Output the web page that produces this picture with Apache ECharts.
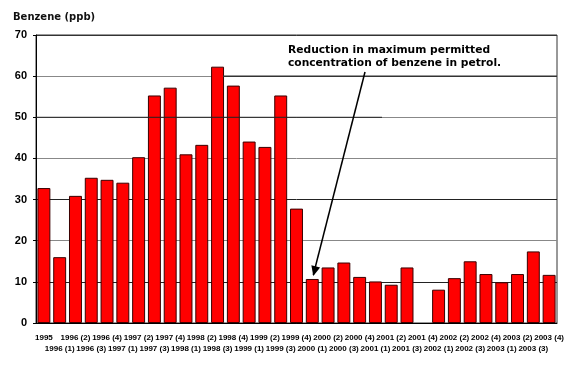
<!DOCTYPE html>
<html><head><meta charset="utf-8">
<script src="https://cdn.jsdelivr.net/npm/echarts@6/dist/echarts.min.js"></script>
<style>html,body{margin:0;padding:0;background:#fff}#c{width:575px;height:369px}</style>
</head><body><div id="c"></div>
<script>
var categories = ['1995','1996 (1)','1996 (2)','1996 (3)','1996 (4)','1997 (1)','1997 (2)','1997 (3)','1997 (4)','1998 (1)','1998 (2)','1998 (3)','1998 (4)','1999 (1)','1999 (2)','1999 (3)','1999 (4)','2000 (1)','2000 (2)','2000 (3)','2000 (4)','2001 (1)','2001 (2)','2001 (3)','2001 (4)','2002 (1)','2002 (2)','2002 (3)','2002 (4)','2003 (1)','2003 (2)','2003 (3)','2003 (4)'];
var benzene = [32.8,16.0,30.9,35.3,34.8,34.1,40.3,55.3,57.2,41.0,43.3,62.3,57.7,44.1,42.8,55.3,27.8,10.7,13.5,14.7,11.2,10.1,9.3,13.5,null,8.1,10.9,15.0,11.9,9.9,11.9,17.4,11.7];
var yTicks = [0,10,20,30,40,50,60,70];
var annotationLines = ['Reduction in maximum permitted','concentration of benzene in petrol.'];
var arrowTargetIndex = 17;

var chart = echarts.init(document.getElementById('c'), null, {renderer:'canvas'});
var G = {left:36, right:18, top:35, bottom:46};
chart.setOption({
  animation:false,
  title:{text:'Benzene (ppb)', left:8, top:7, textStyle:{fontFamily:'DejaVu Sans', fontWeight:'bold', fontSize:10, color:'#111'}},
  grid:{left:G.left, right:G.right, top:G.top, bottom:G.bottom, show:true, borderColor:'#333', borderWidth:1},
  xAxis:{type:'category', data:categories,
    axisLine:{lineStyle:{color:'#000'}}, axisTick:{show:false},
    axisLabel:{interval:0, fontFamily:'Liberation Sans, Arial', fontWeight:'bold', fontSize:8, color:'#000', margin:9, lineHeight:11,
      formatter:function(v,i){return i%2===0 ? v : '\n'+v;}}},
  yAxis:{type:'value', min:0, max:70, interval:10,
    axisLine:{show:true, lineStyle:{color:'#000'}}, axisTick:{show:true, length:3, lineStyle:{color:'#000'}},
    axisLabel:{fontFamily:'Liberation Sans, Arial', fontWeight:'bold', fontSize:11, color:'#000', margin:9,
      formatter:function(v){return yTicks.indexOf(v)>=0 ? String(v) : '';}},
    splitLine:{show:true, lineStyle:{width:1, color:['#000','#222','#888','#222','#888','#888','#888','#333']}}},
  series:[{type:'bar', data:benzene, barCategoryGap:'18%',
    itemStyle:{color:'#ff0000', borderColor:'#3a0000', borderWidth:1}}]
});

function drawExtras(){
  var y50 = chart.convertToPixel({yAxisIndex:0}, 50);
  var y60 = chart.convertToPixel({yAxisIndex:0}, 60);
  var W = 575 - G.left - G.right;
  var xL = G.left, xR = G.left + W;
  var tip = chart.convertToPixel({seriesIndex:0}, [arrowTargetIndex, benzene[arrowTargetIndex]]);
  var textX = 288, textY = 44;
  chart.setOption({graphic:[
    {type:'line', silent:true, z:5, shape:{x1:xL, y1:y50, x2:xL+(382-36)/521*W, y2:y50}, style:{stroke:'#222', lineWidth:1}},
    {type:'line', silent:true, z:5, shape:{x1:xL+(223-36)/521*W, y1:y60, x2:xR, y2:y60}, style:{stroke:'#333', lineWidth:1.5}},
    {type:'text', z:10, x:textX, y:textY, style:{text:annotationLines.join('\n'), font:'bold 10.7px "DejaVu Sans"', fill:'#000', lineHeight:12.5}},
    {type:'line', z:10, shape:{x1:365, y1:72, x2:tip[0]+1, y2:tip[1]-4}, style:{stroke:'#000', lineWidth:1.5}},
    {type:'polygon', z:10, shape:{points:(function(){
      var x0=365,y0=72,x1=tip[0]+1,y1=tip[1]-3;
      var ang=Math.atan2(y1-y0,x1-x0), L=10, w=4.5;
      var bx=x1-L*Math.cos(ang), by=y1-L*Math.sin(ang);
      return [[x1,y1],[bx+w*Math.sin(ang),by-w*Math.cos(ang)],[bx-w*Math.sin(ang),by+w*Math.cos(ang)]];
    })()}, style:{fill:'#000'}}
  ]});
}
drawExtras();
</script></body></html>
